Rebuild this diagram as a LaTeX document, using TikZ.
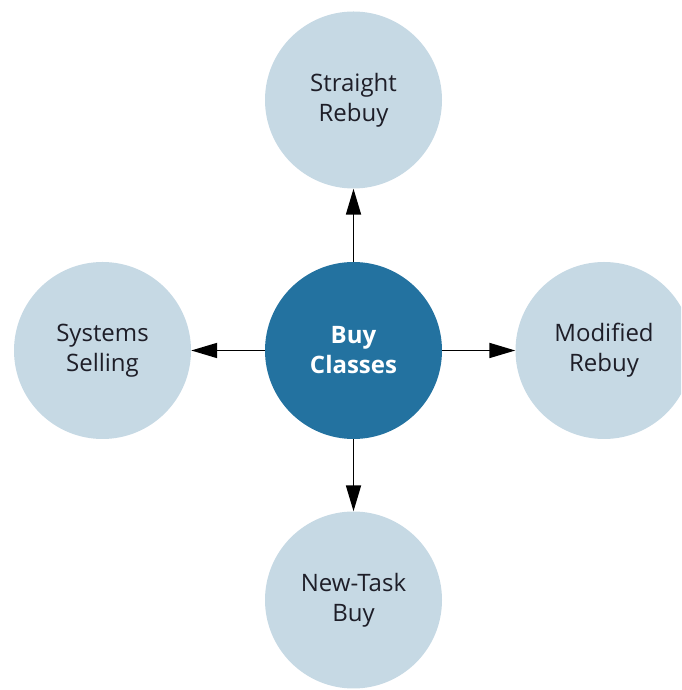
\documentclass[tikz,border=0pt]{standalone}
\usepackage{fontspec}
\setmainfont{Open Sans}
\usetikzlibrary{arrows.meta}
\definecolor{lightc}{HTML}{C6D9E4}
\definecolor{darkc}{HTML}{2372A0}
\definecolor{txt}{HTML}{1E1E28}
\tikzset{
  outer/.style={circle, fill=lightc, minimum size=177pt, inner sep=0pt, align=center, text=txt, font=\fontsize{24}{30}\selectfont},
  inner/.style={circle, fill=darkc, minimum size=177pt, inner sep=0pt, align=center, text=white, font=\fontsize{24}{30}\selectfont\bfseries},
  conn/.style={line width=1.8pt, -{Triangle[length=26pt,width=15pt]}}
}
\begin{document}
\begin{tikzpicture}[x=1pt,y=1pt]
\clip (0,0) rectangle (681,690);
\useasboundingbox (0,0) rectangle (681,690);
\node[inner] (c) at (353.5,339.5) {Buy\\Classes};
\node[outer] (t) at (353.5,590) {Straight\\Rebuy};
\node[outer] (b) at (353.5,90) {New-Task\\Buy};
\node[outer] (l) at (102.5,339.5) {Systems\\Selling};
\node[outer] (r) at (604,339.5) {Modified\\Rebuy};
\draw[conn] (c.north) -- (t.south);
\draw[conn] (c.south) -- (b.north);
\draw[conn] (c.west) -- (l.east);
\draw[conn] (c.east) -- (r.west);
\end{tikzpicture}
\end{document}
